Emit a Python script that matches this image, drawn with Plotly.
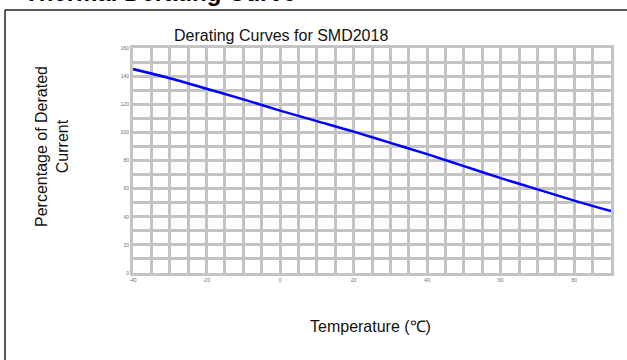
import plotly.graph_objects as go

temperature = [-40, -30, -20, -10, 0, 10, 20, 30, 40, 50, 60, 70, 80, 90]
derated_pct = [145, 138.5, 131, 123.5, 115.5, 108, 100.5, 92.5, 84.5, 76, 67.5, 59.5, 51.5, 44]

x_ticks = [-40, -20, 0, 20, 40, 60, 80]
y_ticks = [0, 20, 40, 60, 80, 100, 120, 140, 160]

W, H = 627, 360
# plot box in page pixels
SL, SR, ST, SB = 133, 611, 48, 273
L, T, R, B = SL, ST, W - SR, H - SB
pw, ph = W - L - R, H - T - B

def px(X):
    return (X - L) / pw

def py(Y):
    return (H - B - Y) / ph

fig = go.Figure()
fig.add_trace(go.Scatter(x=temperature, y=derated_pct, mode="lines",
                         line=dict(color="#0000ff", width=2.5, shape="spline"),
                         showlegend=False, hoverinfo="skip"))

grid = "#c4c4c4"
tickfont = dict(size=5, color="#6e6e6e", family="Liberation Sans, Arial")
fig.update_xaxes(range=[-40, 90], tickvals=x_ticks, ticktext=[str(v) for v in x_ticks],
                 showgrid=True, gridcolor=grid, gridwidth=2.5,
                 minor=dict(dtick=5, tick0=0, showgrid=True, gridcolor=grid, gridwidth=2.5),
                 showline=True, linecolor=grid, linewidth=3, mirror=True,
                 zeroline=False, ticks="", ticklen=0, tickfont=tickfont)
fig.update_yaxes(range=[0, 160], tickvals=y_ticks, ticktext=[str(v) for v in y_ticks],
                 showgrid=True, gridcolor=grid, gridwidth=2.5,
                 minor=dict(dtick=10, tick0=0, showgrid=True, gridcolor=grid, gridwidth=2.5),
                 showline=True, linecolor=grid, linewidth=3, mirror=True,
                 zeroline=False, ticks="", ticklen=0, tickfont=tickfont)

font = dict(family="Liberation Sans, Arial", size=16, color="#111111")
ann = [
    dict(text="Derating Curves for SMD2018", x=px(281), y=py(35), xanchor="center", yanchor="middle", font=font),
    dict(text="Temperature (℃)", x=px(370), y=py(326), xanchor="center", yanchor="middle", font=font),
    dict(text="Percentage of Derated<br>Current", x=px(52), y=py(147), xanchor="center", yanchor="middle",
         textangle=-90, font=font),
    dict(text="<b>Thermal Derating Curve</b>", x=px(22), y=py(-7), xanchor="left", yanchor="middle",
         font=dict(family="Liberation Sans, Arial", size=24, color="#000000")),
]
for a in ann:
    a.update(xref="paper", yref="paper", showarrow=False)
fig.update_layout(annotations=ann)

# outer frame of the scanned figure
fig.add_shape(type="line", xref="paper", yref="paper", x0=px(5), x1=px(627), y0=py(10), y1=py(10),
              line=dict(color="#222222", width=1.5))
fig.add_shape(type="line", xref="paper", yref="paper", x0=px(5), x1=px(5), y0=py(10), y1=py(380),
              line=dict(color="#222222", width=1.5))

fig.update_layout(width=W, height=H, margin=dict(l=L, r=R, t=T, b=B),
                  paper_bgcolor="white", plot_bgcolor="white", showlegend=False)

fig.write_html("out.html", config={"displayModeBar": False},
               post_script="document.body.style.margin='0';document.body.style.padding='0';"
                           "document.body.style.overflow='hidden';")
